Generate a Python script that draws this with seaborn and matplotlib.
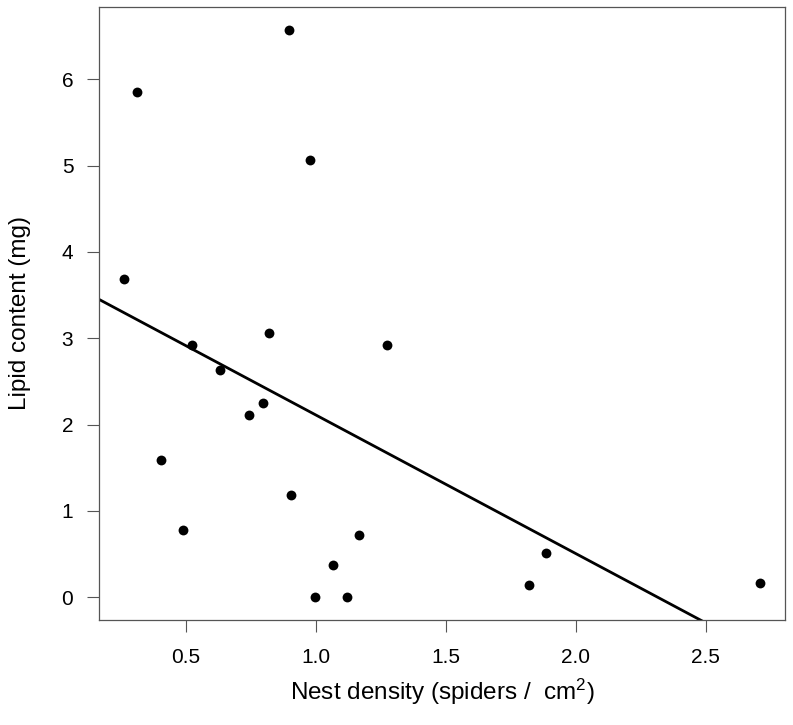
import numpy as np
import pandas as pd
import seaborn as sns
import matplotlib
matplotlib.use("Agg")
import matplotlib.pyplot as plt

# Nest density (spiders / cm^2) and lipid content (mg)
density = [0.897, 0.313, 0.977, 0.263, 0.818, 0.522, 1.273, 0.631, 0.795, 0.741,
           0.403, 0.905, 0.488, 1.165, 1.067, 0.995, 1.120, 1.887, 1.822, 2.708]
lipid = [6.574, 5.857, 5.070, 3.685, 3.064, 2.921, 2.925, 2.627, 2.253, 2.111,
         1.590, 1.189, 0.784, 0.722, 0.375, 0.000, 0.000, 0.509, 0.139, 0.170]

x_ticks = [0.5, 1.0, 1.5, 2.0, 2.5]
y_ticks = [0, 1, 2, 3, 4, 5, 6]

df = pd.DataFrame({"density": density, "lipid": lipid})

sns.set_theme(style="white")
plt.rcParams["font.family"] = ["Liberation Sans", "DejaVu Sans"]
plt.rcParams["mathtext.fontset"] = "custom"
plt.rcParams["mathtext.rm"] = "Liberation Sans"
plt.rcParams["mathtext.it"] = "Liberation Sans"
plt.rcParams["text.color"] = "black"
plt.rcParams["axes.labelcolor"] = "black"

fig = plt.figure(figsize=(7.93, 7.25), dpi=100)
ax = fig.add_axes([99 / 793, 105 / 725, 686 / 793, 613 / 725])

# R-style axis ranges: data range padded by 4%
xr = df["density"].max() - df["density"].min()
yr = df["lipid"].max() - df["lipid"].min()
xlim = (df["density"].min() - 0.04 * xr, df["density"].max() + 0.04 * xr)
ylim = (df["lipid"].min() - 0.04 * yr, df["lipid"].max() + 0.04 * yr)
ax.set_xlim(xlim)
ax.set_ylim(ylim)

sns.scatterplot(data=df, x="density", y="lipid", ax=ax, color="black",
                s=50, linewidth=0, zorder=3)
# least-squares line drawn across the whole panel, like abline()
sns.regplot(data=df, x="density", y="lipid", ax=ax, scatter=False, ci=None,
            truncate=False, color="black", line_kws={"linewidth": 2.0})

ax.set_xlim(xlim)
ax.set_ylim(ylim)

ax.set_xticks(x_ticks)
ax.set_xticklabels([f"{t:.1f}" for t in x_ticks])
ax.set_yticks(y_ticks)
ax.set_yticklabels([str(t) for t in y_ticks])
ax.tick_params(axis="both", direction="out", length=8.5, width=0.8,
               color="#555555", labelsize=15, labelcolor="black",
               bottom=True, left=True)
ax.tick_params(axis="x", pad=12)
ax.tick_params(axis="y", pad=10)

for sp in ax.spines.values():
    sp.set_color("#555555")
    sp.set_linewidth(0.9)

ax.set_xlabel(r"Nest density (spiders /  cm$^2$)", fontsize=17.5, labelpad=7)
ax.set_ylabel("Lipid content (mg)", fontsize=17.5, labelpad=22)

fig.savefig("out.png", dpi=100)
